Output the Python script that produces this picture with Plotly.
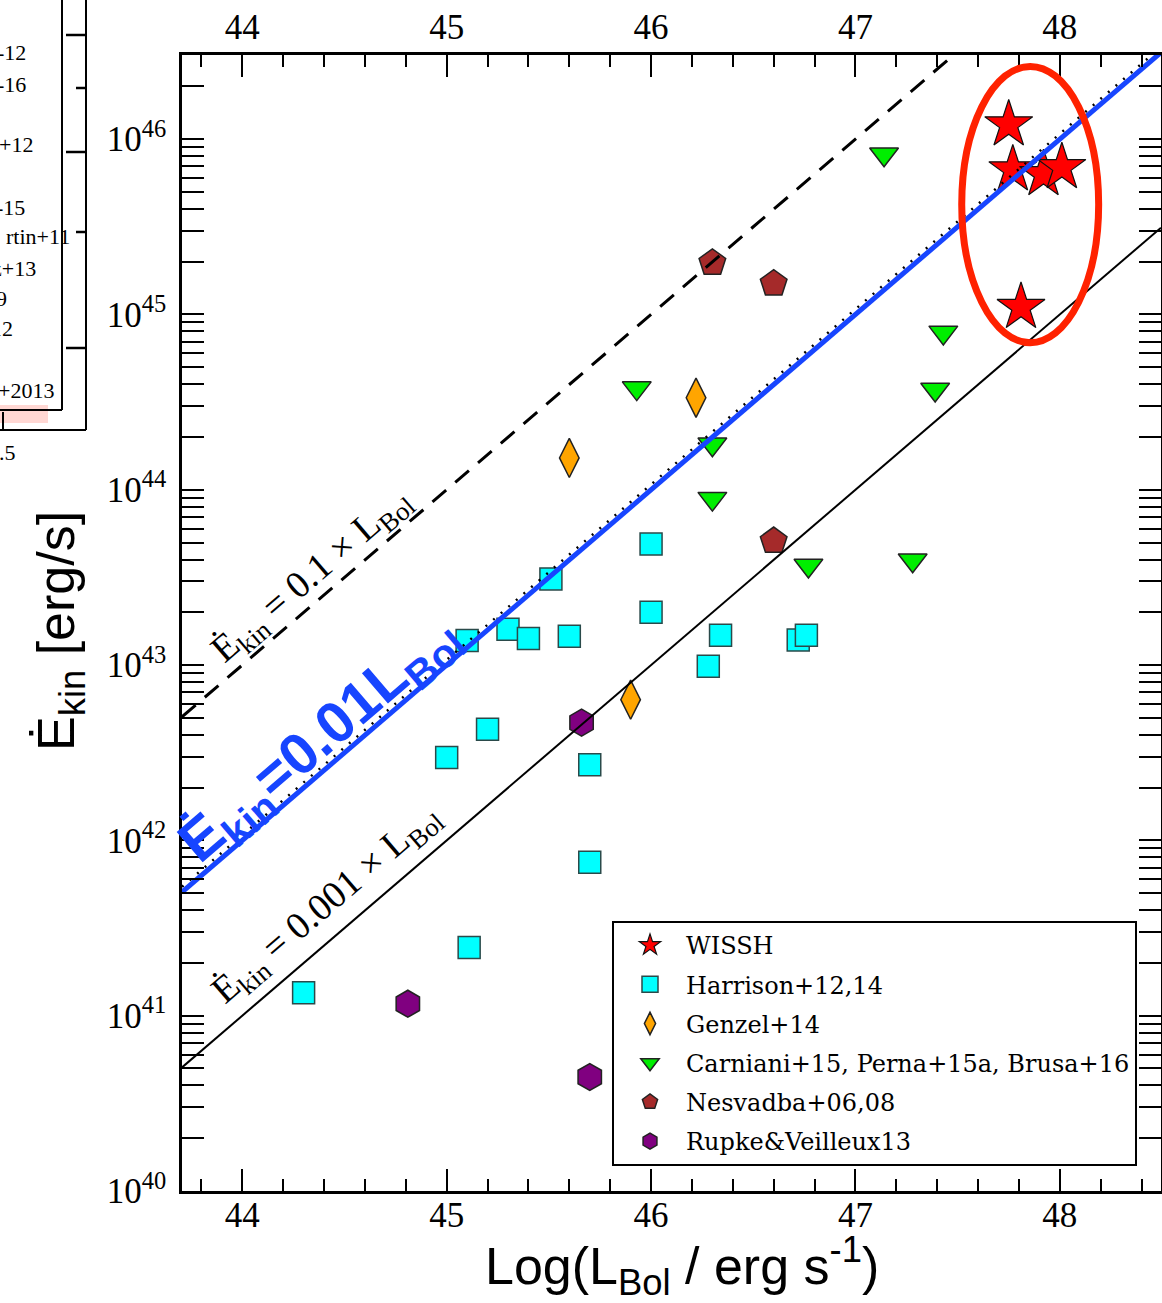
import numpy as np
import plotly.graph_objects as go

# ---------------- data: log L_Bol [erg/s] and kinetic power [erg/s] ----------------
wissh_logL = [47.75, 47.77, 47.92, 48.01, 47.81]
wissh_ekin = [1.21e46, 6.7e45, 6.3e45, 6.9e45, 1.1e45]

harrison_logL = [44.30, 45.11, 45.00, 45.20, 45.70, 45.70, 45.10, 45.30, 45.40,
                 45.60, 45.51, 46.00, 46.00, 46.28, 46.34, 46.72, 46.76]
harrison_ekin = [1.35e41, 2.45e41, 2.97e42, 4.3e42, 2.7e42, 7.5e41, 1.38e43, 1.6e43, 1.42e43,
                 1.46e43, 3.1e43, 4.9e43, 2.0e43, 9.85e42, 1.48e43, 1.39e43, 1.48e43]

genzel_logL = [45.60, 46.22, 45.90]
genzel_ekin = [1.52e44, 3.35e44, 6.35e42]

carniani_logL = [47.14, 45.93, 47.43, 47.39, 46.30, 46.30, 46.77, 47.28]
carniani_ekin = [8.2e45, 3.8e44, 7.9e44, 3.73e44, 1.82e44, 8.9e43, 3.7e43, 3.96e43]

nesvadba_logL = [46.30, 46.60, 46.60]
nesvadba_ekin = [1.97e45, 1.5e45, 5.1e43]

rupke_logL = [45.66, 44.81, 45.70]
rupke_ekin = [4.7e42, 1.17e41, 4.47e40]

# coupling efficiencies Ekin = f x L_Bol
eff_dashed = 0.1
eff_blue = 0.01
eff_solid = 0.001

x_tick_vals = [44, 45, 46, 47, 48]
y_tick_exps = [40, 41, 42, 43, 44, 45, 46]
x_range = [43.705, 48.495]
y_range_log = [40.0, 46.48]

SERIF = "Liberation Serif"
SERIF_WIDE = "DejaVu Serif"
SANS = "Liberation Sans"

# ---------------- figure geometry ----------------
W, H = 1162, 1303
ML, MR, MT, MB = 182, 1, 55, 112
PW, PH = W - ML - MR, H - MT - MB


def paper_x(px):
    return (px - ML) / PW


def paper_y(py):
    return (H - MB - py) / PH


fig = go.Figure()

outline = dict(color="#222222", width=1.5)


def add_sample(x, y, name, marker):
    fig.add_trace(go.Scatter(x=x, y=y, mode="markers", name=name, legendgroup=name, marker=marker))


add_sample(wissh_logL, wissh_ekin, "WISSH",
           dict(symbol="star", size=36, color="#ff0000", line=dict(color="#111", width=1.2)))
add_sample(harrison_logL, harrison_ekin, "Harrison+12,14",
           dict(symbol="square", size=22, color="#00ffff", line=dict(color="#2a4a4a", width=1.5)))
add_sample(genzel_logL, genzel_ekin, "Genzel+14",
           dict(symbol="diamond-tall", size=28, color="#ffa500", line=outline))
add_sample(carniani_logL, carniani_ekin, "Carniani+15, Perna+15a, Brusa+16",
           dict(symbol="triangle-down", size=25, color="#00ee00", line=outline))
add_sample(nesvadba_logL, nesvadba_ekin, "Nesvadba+06,08",
           dict(symbol="pentagon", size=28, color="#a52a2a", line=outline))
add_sample(rupke_logL, rupke_ekin, "Rupke&Veilleux13",
           dict(symbol="hexagon", size=27, color="#800080", line=outline))

# efficiency lines (straight in log-log space)
lx = np.array(x_range)
fig.add_trace(go.Scatter(x=lx, y=eff_dashed * 10 ** lx, mode="lines", showlegend=False,
                         line=dict(color="black", width=3, dash="18px,12px")))
fig.add_trace(go.Scatter(x=lx, y=eff_solid * 10 ** lx, mode="lines", showlegend=False,
                         line=dict(color="black", width=2)))
# dotted curve sits a hair above the blue overlay so it stays visible
dotted_shift_dex = 0.03
fig.add_trace(go.Scatter(x=lx, y=eff_blue * 10 ** (lx + dotted_shift_dex), mode="lines", showlegend=False,
                         line=dict(color="black", width=2.5, dash="2px,8px")))
BLUE = "#1745ff"
fig.add_trace(go.Scatter(x=lx, y=eff_blue * 10 ** lx, mode="lines", showlegend=False,
                         line=dict(color=BLUE, width=5)))

# top axis carrier
fig.add_trace(go.Scatter(x=[x_range[0]], y=[10 ** y_range_log[0]], xaxis="x2", mode="markers",
                         marker=dict(opacity=0), showlegend=False, hoverinfo="skip"))

angle = -np.degrees(np.arctan((PH / (y_range_log[1] - y_range_log[0])) / (PW / (x_range[1] - x_range[0]))))

annotations = [
    dict(x=44.34, y=43.51, xref="x", yref="y", text="Ė<sub>kin</sub> = 0.1 × L<sub>Bol</sub>",
         textangle=angle, showarrow=False, font=dict(family=SERIF, size=38, color="black")),
    dict(x=44.41, y=41.633, xref="x", yref="y", text="Ė<sub>kin</sub> = 0.001 × L<sub>Bol</sub>",
         textangle=angle, showarrow=False, font=dict(family=SERIF, size=38, color="black")),
    dict(x=44.385, y=42.57, xref="x", yref="y", text="<b>Ė<sub>kin</sub>=0.01L<sub>Bol</sub></b>",
         textangle=angle, showarrow=False, font=dict(family=SANS, size=58, color=BLUE)),
    # axis titles
    dict(x=paper_x(682), y=paper_y(1266), xref="paper", yref="paper", xanchor="center", yanchor="middle",
         text="Log(L<sub>Bol</sub> / erg s<sup>-1</sup>)", showarrow=False,
         font=dict(family=SANS, size=52, color="black")),
    dict(x=paper_x(60), y=paper_y(631), xref="paper", yref="paper", xanchor="center", yanchor="middle",
         text="Ė<sub>kin</sub> [erg/s]", textangle=-90, showarrow=False,
         font=dict(family=SANS, size=52, color="black")),
]

# neighbouring panel peeking in at the left edge
side_labels = [("-12", 28, 52), ("-16", 28, 84), ("+12", 35, 145), ("-15", 27, 207),
               ("rtin+11", 72, 237), ("z+13", 38, 268), ("9", 9, 298), ("12", 15, 329),
               ("+2013", 56, 390), (".5", 18, 452)]
for txt, xr, yc in side_labels:
    annotations.append(dict(x=paper_x(xr), y=paper_y(yc), xref="paper", yref="paper", xanchor="right",
                            yanchor="middle", text=txt, showarrow=False,
                            font=dict(family=SERIF, size=22, color="black")))

shapes = [
    dict(type="rect", xref="paper", yref="paper", x0=paper_x(-2), x1=paper_x(48), y0=paper_y(423),
         y1=paper_y(405), fillcolor="rgba(255,205,200,0.8)", line=dict(width=0), layer="below"),
    dict(type="line", xref="paper", yref="paper", x0=paper_x(62), x1=paper_x(62), y0=paper_y(410),
         y1=paper_y(-5), line=dict(color="black", width=2)),
    dict(type="line", xref="paper", yref="paper", x0=paper_x(-5), x1=paper_x(62), y0=paper_y(410),
         y1=paper_y(410), line=dict(color="black", width=2)),
    dict(type="line", xref="paper", yref="paper", x0=paper_x(86), x1=paper_x(86), y0=paper_y(430),
         y1=paper_y(-5), line=dict(color="black", width=2)),
    dict(type="line", xref="paper", yref="paper", x0=paper_x(-5), x1=paper_x(86), y0=paper_y(430),
         y1=paper_y(430), line=dict(color="black", width=2)),
    dict(type="line", xref="paper", yref="paper", x0=paper_x(3), x1=paper_x(3), y0=paper_y(430),
         y1=paper_y(412), line=dict(color="black", width=2)),
]
for yt, length in [(35, 20), (88, 10), (152, 20), (232, 10), (348, 20)]:
    shapes.append(dict(type="line", xref="paper", yref="paper", x0=paper_x(86 - length), x1=paper_x(86),
                       y0=paper_y(yt), y1=paper_y(yt), line=dict(color="black", width=2.5)))

# red ellipse around the WISSH sources
shapes.append(dict(type="circle", xref="x", yref="y", x0=47.52, x1=48.19, y0=6.9e44, y1=2.6e46,
                   line=dict(color="#ff2200", width=7)))

axis_font = dict(family=SERIF, size=35, color="black")
x_common = dict(range=x_range, tickvals=x_tick_vals, ticks="inside", ticklen=22, tickwidth=2,
                tickcolor="black", showline=True, linecolor="black", linewidth=2.5, showgrid=False,
                zeroline=False, tickfont=axis_font, automargin=False,
                minor=dict(ticks="inside", ticklen=12, tickwidth=2, tickcolor="black", dtick=0.2,
                           showgrid=False))

fig.update_layout(
    width=W, height=H,
    margin=dict(l=ML, r=MR, t=MT, b=MB, pad=0),
    paper_bgcolor="white", plot_bgcolor="white",
    xaxis=dict(**x_common, side="bottom", ticklabelstandoff=-9),
    xaxis2=dict(**x_common, side="top", overlaying="x", anchor="y", ticklabelstandoff=-1),
    yaxis=dict(type="log", range=y_range_log,
               tickvals=[10.0 ** e for e in y_tick_exps],
               ticktext=[f"10<sup>{e}</sup>" for e in y_tick_exps],
               ticks="inside", ticklen=22, tickwidth=2, tickcolor="black", showline=True,
               linecolor="black", linewidth=2.5, mirror="allticks", showgrid=False, zeroline=False,
               tickfont=axis_font, ticklabelstandoff=6, automargin=False,
               minor=dict(ticks="inside", ticklen=12, tickwidth=2, tickcolor="black",
                          tickvals=[m * 10.0 ** e for e in range(40, 47) for m in range(2, 10)],
                          showgrid=False)),
    legend=dict(x=paper_x(612), y=paper_y(921), xanchor="left", yanchor="top", bgcolor="white",
                bordercolor="black", borderwidth=2, font=dict(family=SERIF_WIDE, size=24, color="black"),
                itemsizing="trace", itemwidth=62, tracegroupgap=5),
    annotations=annotations,
    shapes=shapes,
    showlegend=True,
)

fig.write_html("out.html")
